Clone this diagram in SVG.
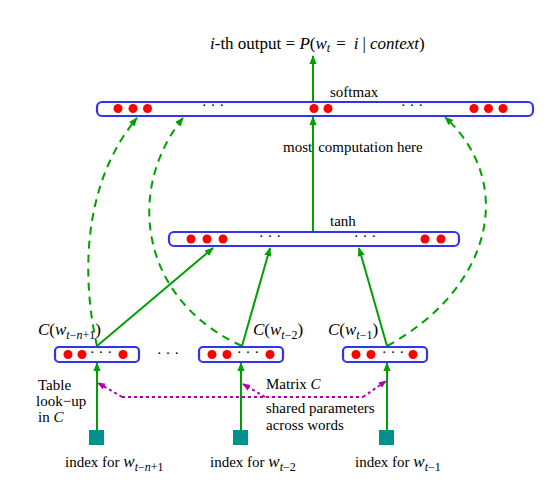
<svg xmlns="http://www.w3.org/2000/svg" width="552" height="486" viewBox="0 0 552 486">
<defs>
<marker id="ag" viewBox="0 0 10 10" refX="9" refY="5" markerWidth="9" markerHeight="9" markerUnits="userSpaceOnUse" orient="auto"><path d="M0,1 L10,5 L0,9 z" fill="#00a000"/></marker>
<marker id="ap" viewBox="0 0 10 10" refX="9" refY="5" markerWidth="8" markerHeight="8" markerUnits="userSpaceOnUse" orient="auto"><path d="M0,1 L10,5 L0,9 z" fill="#b000b0"/></marker>
<style>
.bar{fill:#fff;stroke:#3333ee;stroke-width:2.2}
.dot{fill:#ff0000}
.t{font-family:"Liberation Serif",serif;font-size:15px;fill:#000}
.m{font-family:"Liberation Serif",serif;font-size:17px;fill:#000}
.i{font-style:italic}
.sol{stroke:#00a000;stroke-width:2;fill:none}
.dash{stroke:#00a000;stroke-width:2;fill:none;stroke-dasharray:8,6}
.dot2{stroke:#b000b0;stroke-width:2;fill:none;stroke-dasharray:3,3}
.sq{fill:#009090}
</style>
</defs>
<rect width="552" height="486" fill="#fff"/>

<text class="m" x="210" y="49"><tspan class="i">i</tspan>-th output = <tspan class="i">P</tspan>(<tspan class="i">w</tspan><tspan class="i" font-size="12" dy="3">t</tspan><tspan dy="-3" dx="6">=</tspan><tspan class="i" dx="8">i</tspan><tspan dx="4">|</tspan><tspan class="i" dx="4">context</tspan>)</text>

<g id="connectors">
<line class="sol" x1="313" y1="101" x2="313" y2="56" marker-end="url(#ag)"/>
<line class="sol" x1="313" y1="231" x2="313" y2="117" marker-end="url(#ag)"/>
<line class="sol" x1="97" y1="346" x2="213" y2="248" marker-end="url(#ag)"/>
<line class="sol" x1="242" y1="346" x2="270" y2="248" marker-end="url(#ag)"/>
<line class="sol" x1="387" y1="346" x2="359" y2="248" marker-end="url(#ag)"/>
<path class="dash" d="M97,346 C80,270 85,180 137,118" marker-end="url(#ag)"/>
<path class="dash" d="M242,346 C140,300 125,190 183,118" marker-end="url(#ag)"/>
<path class="dash" d="M387,346 C490,290 518,185 445,117" marker-end="url(#ag)"/>
<line class="sol" x1="97" y1="430" x2="97" y2="363" marker-end="url(#ag)"/>
<line class="sol" x1="241" y1="430" x2="241" y2="363" marker-end="url(#ag)"/>
<line class="sol" x1="387" y1="430" x2="387" y2="363" marker-end="url(#ag)"/>
<path class="dot2" d="M122,397 L363,397"/>
<path class="dot2" d="M122,397 L98,383" marker-end="url(#ap)"/>
<path class="dot2" d="M265,397 L243,384" marker-end="url(#ap)"/>
<path class="dot2" d="M363,397 L386,381" marker-end="url(#ap)"/>
</g>

<g id="softmax">
<rect class="bar" x="97" y="102" width="436" height="14" rx="5"/>
<circle class="dot" cx="118" cy="108.5" r="4.5"/><circle class="dot" cx="133" cy="108.5" r="4.5"/><circle class="dot" cx="147.5" cy="108.5" r="4.5"/>
<circle class="dot" cx="314" cy="108.5" r="4.5"/><circle class="dot" cx="328" cy="108.5" r="4.5"/>
<circle class="dot" cx="474" cy="108.5" r="4.5"/><circle class="dot" cx="488.5" cy="108.5" r="4.5"/><circle class="dot" cx="503" cy="108.5" r="4.5"/>
<text class="t" x="213" y="110" text-anchor="middle">· · ·</text>
<text class="t" x="412" y="110" text-anchor="middle">· · ·</text>
<text class="t" x="330" y="97">softmax</text>
</g>
<text class="t" x="283" y="152">most<tspan dx="6">computation here</tspan></text>

<g id="tanh">
<rect class="bar" x="169" y="232" width="290" height="14" rx="5"/>
<circle class="dot" cx="191" cy="239" r="4.5"/><circle class="dot" cx="207" cy="239" r="4.5"/><circle class="dot" cx="223" cy="239" r="4.5"/>
<circle class="dot" cx="425" cy="239" r="4.5"/><circle class="dot" cx="441" cy="239" r="4.5"/>
<text class="t" x="270" y="241" text-anchor="middle">· · ·</text>
<text class="t" x="365" y="241" text-anchor="middle">· · ·</text>
<text class="t" x="330" y="226">tanh</text>
</g>

<g id="c1">
<rect class="bar" x="55" y="347" width="84" height="15" rx="4"/>
<circle class="dot" cx="68" cy="354.5" r="4.5"/><circle class="dot" cx="82" cy="354.5" r="4.5"/><circle class="dot" cx="123" cy="354.5" r="4.5"/>
<text class="t" x="101" y="357" text-anchor="middle">· · ·</text>
<text class="m" x="38" y="335"><tspan class="i">C</tspan>(<tspan class="i">w</tspan><tspan class="i" font-size="12" dy="4">t</tspan><tspan font-size="12">−</tspan><tspan class="i" font-size="12">n</tspan><tspan font-size="12">+1</tspan><tspan dy="-4">)</tspan></text>
</g>
<text class="t" x="168" y="358" text-anchor="middle">· · ·</text>
<g id="c2">
<rect class="bar" x="199" y="347" width="84" height="15" rx="4"/>
<circle class="dot" cx="212" cy="354.5" r="4.5"/><circle class="dot" cx="227" cy="354.5" r="4.5"/><circle class="dot" cx="270" cy="354.5" r="4.5"/>
<text class="t" x="248" y="357" text-anchor="middle">· · ·</text>
<text class="m" x="253" y="335"><tspan class="i">C</tspan>(<tspan class="i">w</tspan><tspan class="i" font-size="12" dy="4">t</tspan><tspan font-size="12">−2</tspan><tspan dy="-4">)</tspan></text>
</g>
<g id="c3">
<rect class="bar" x="343" y="347" width="84" height="15" rx="4"/>
<circle class="dot" cx="356" cy="354.5" r="4.5"/><circle class="dot" cx="371" cy="354.5" r="4.5"/><circle class="dot" cx="413" cy="354.5" r="4.5"/>
<text class="t" x="393" y="357" text-anchor="middle">· · ·</text>
<text class="m" x="328" y="335"><tspan class="i">C</tspan>(<tspan class="i">w</tspan><tspan class="i" font-size="12" dy="4">t</tspan><tspan font-size="12">−1</tspan><tspan dy="-4">)</tspan></text>
</g>

<g id="labels">
<text class="t" x="38" y="390">Table</text>
<text class="t" x="36" y="406">look−up</text>
<text class="t" x="38" y="422">in <tspan class="i">C</tspan></text>
<text class="t" x="266" y="389">Matrix <tspan class="i">C</tspan></text>
<text class="t" x="266" y="413">shared parameters</text>
<text class="t" x="266" y="430">across words</text>
</g>

<g id="idx1">
<rect class="sq" x="89" y="430" width="15" height="15"/>
<text class="t" x="65" y="467">index for <tspan class="i" font-size="17">w</tspan><tspan class="i" font-size="12" dy="4">t</tspan><tspan font-size="12">−</tspan><tspan class="i" font-size="12">n</tspan><tspan font-size="12">+1</tspan></text>
</g>
<g id="idx2">
<rect class="sq" x="233" y="430" width="15" height="15"/>
<text class="t" x="210" y="467">index for <tspan class="i" font-size="17">w</tspan><tspan class="i" font-size="12" dy="4">t</tspan><tspan font-size="12">−2</tspan></text>
</g>
<g id="idx3">
<rect class="sq" x="379" y="430" width="15" height="15"/>
<text class="t" x="355" y="467">index for <tspan class="i" font-size="17">w</tspan><tspan class="i" font-size="12" dy="4">t</tspan><tspan font-size="12">−1</tspan></text>
</g>
</svg>
